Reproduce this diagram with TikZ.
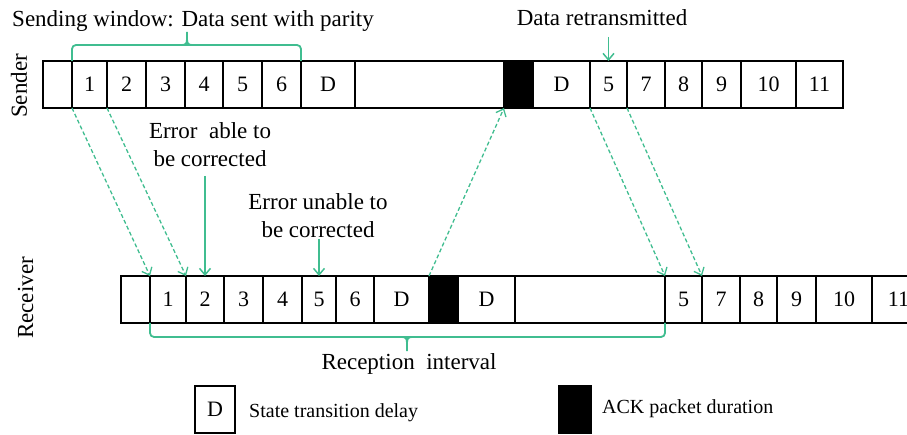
\documentclass[tikz,border=0pt]{standalone}
\usepackage{fontspec}
\setmainfont{Liberation Serif}
\usetikzlibrary{arrows.meta}
\definecolor{grn}{RGB}{64,189,144}
\begin{document}
\begin{tikzpicture}[x=1pt,y=-1pt,
  cell/.style={draw=black,line width=2pt,minimum height=47pt,inner sep=0pt,outer sep=0pt,font=\fontsize{22}{24}\selectfont},
  ackcell/.style={cell,fill=black},
  dasharrow/.style={draw=grn,line width=1.3pt,dash pattern=on 4pt off 2.5pt,-{Straight Barb[length=6.5pt,width=11pt]}},
  solarrow/.style={draw=grn,line width=1.5pt,-{Straight Barb[length=6.5pt,width=11pt]}},
  lbl/.style={font=\fontsize{23}{28}\selectfont,inner sep=0pt,align=center},
  leglbl/.style={font=\fontsize{20}{24}\selectfont,inner sep=0pt,anchor=base west},
  bracket/.style={draw=grn,line width=1.8pt,rounded corners=4pt},
  brtip/.style={draw=grn,line width=1.8pt}]
\path[use as bounding box] (0,0) rectangle (907,435);
\clip (0,0) rectangle (907,435);
% sender row
\foreach \l/\r/\n/\t in {43/72/s0/{},72/107/s1/1,107/146/s2/2,146/185/s3/3,185/223/s4/4,223/262/s5/5,262/301/s6/6,301/355/sD/D,355/504/sE/{},533/590/sDb/D,590/627/s5r/5,627/665/s7/7,665/702/s8/8,702/741/s9/9,741/796/s10/10,796/843/s11/11}
  \node[cell,minimum width={(\r-\l)*1pt}] (\n) at ({(\l+\r)/2},84.5) {\t};
\node[ackcell,minimum width=29pt] (sA) at (518.5,84.5) {};
% receiver row
\foreach \l/\r/\n/\t in {121/150/r0/{},150/186/r1/1,186/224/r2/2,224/263/r3/3,263/302/r4/4,302/336/r5/5,336/374/r6/6,374/429/rD/D,458/515/rDb/D,515/665/rE/{},665/702/r5r/5,702/740/r7/7,740/777/r8/8,777/816/r9/9,816/872/r10/10,872/925/r11/11}
  \node[cell,minimum width={(\r-\l)*1pt}] (\n) at ({(\l+\r)/2},299.5) {\t};
\node[ackcell,minimum width=29pt] (rA) at (443.5,299.5) {};
% row labels
\node[lbl,rotate=90,anchor=base] (sender) at (27,86) {Sender};
\node[lbl,rotate=90,anchor=base] (receiver) at (33,298) {Receiver};
% top texts
\node[lbl,anchor=base] (title) at (193,27) {Sending window: Data sent with parity};
\node[lbl,anchor=base] (retx) at (602,26) {Data retransmitted};
\node[lbl,anchor=base] (err1) at (210,167) {Error\ \ able to\\be corrected};
\node[lbl,anchor=base] (err2) at (318,238) {Error unable to\\be corrected};
\node[lbl,anchor=base] (recint) at (409,370) {Reception\ \ interval};
% brackets
\draw[bracket] (s1.north west) -- ++(0,-16) -| (s6.north east);
\draw[brtip] (182,45) .. controls (186,45) and (187,43) .. (187,39) -- (187,32);
\draw[brtip] (192,45) .. controls (188,45) and (187,43) .. (187,39);
\draw[bracket] (r1.south west) -- ++(0,14) -| (rE.south east);
\draw[brtip] (402,337) .. controls (406,337) and (407,339) .. (407,343) -- (407,351);
\draw[brtip] (412,337) .. controls (408,337) and (407,339) .. (407,343);
% dashed transmissions
\draw[dasharrow] (s1.south west) -- (r1.north west);
\draw[dasharrow] (s2.south west) -- (r2.north west);
\draw[dasharrow] (rA.north west) -- (sA.south west);
\draw[dasharrow] (s5r.south west) -- (r5r.north west);
\draw[dasharrow] (s7.south west) -- (r7.north west);
% solid pointers
\coordinate (e1) at (205,176);
\coordinate (e2) at (319,239);
\coordinate (e3) at (608.5,37);
\draw[solarrow] (e1) -- (r2.north);
\draw[solarrow] (e2) -- (r5.north);
\draw[solarrow] (e3) -- (s5r.north);
% legend
\node[cell,minimum width=40pt] (legD) at (215,409.5) {D};
\node[leglbl] (legDt) at (249,417) {State transition delay};
\node[ackcell,minimum width=32pt] (legA) at (575,409.5) {};
\node[leglbl] (legAt) at (602,413) {ACK packet duration};
\end{tikzpicture}
\end{document}
